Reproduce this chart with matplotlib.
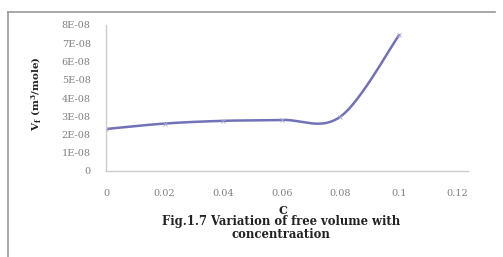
import numpy as np
import matplotlib
matplotlib.use("Agg")
import matplotlib.pyplot as plt
from matplotlib.lines import Line2D

conc = [0.0, 0.02, 0.04, 0.06, 0.08, 0.10]
vf = [2.3e-08, 2.6e-08, 2.75e-08, 2.8e-08, 2.98e-08, 7.45e-08]
xticks = [0, 0.02, 0.04, 0.06, 0.08, 0.1, 0.12]
xticklabels = ["0", "0.02", "0.04", "0.06", "0.08", "0.1", "0.12"]
yticks = [i * 1e-08 for i in range(9)]
yticklabels = ["0"] + ["%dE-08" % i for i in range(1, 9)]

plt.rcParams['font.family'] = ['DejaVu Serif']
plt.rcParams['mathtext.fontset'] = 'custom'
plt.rcParams['mathtext.rm'] = 'DejaVu Serif:bold'
plt.rcParams['mathtext.bf'] = 'DejaVu Serif:bold'
plt.rcParams['mathtext.it'] = 'DejaVu Serif:bold'


def excel_smooth(x, y, n=40):
    x = np.asarray(x, float)
    y = np.asarray(y, float)
    sx = x / 0.12
    sy = y / 8e-08 * 0.4
    P = np.column_stack([sx, sy])
    out = []
    m = len(P)
    for i in range(m - 1):
        p0 = P[i]
        p3 = P[i + 1]
        pm = P[i - 1] if i > 0 else P[i]
        pp = P[i + 2] if i + 2 < m else P[i + 1]
        c1 = p0 + (p3 - pm) / 6.0
        c2 = p3 - (pp - p0) / 6.0
        t = np.linspace(0, 1, n)[:, None]
        seg = ((1 - t) ** 3) * p0 + 3 * ((1 - t) ** 2) * t * c1 + 3 * (1 - t) * t ** 2 * c2 + t ** 3 * p3
        out.append(seg if i == 0 else seg[1:])
    out = np.vstack(out)
    return out[:, 0] * 0.12, out[:, 1] / 0.4 * 8e-08


fig = plt.figure(figsize=(5.03, 2.57), dpi=100)
ax = fig.add_axes([106 / 503, 1 - 171 / 257, 362 / 503, 146 / 257])

sx, sy = excel_smooth(conc, vf)
ax.plot(sx, sy, color='#7272B8', lw=1.8, solid_capstyle='round')
ax.plot(conc, vf, linestyle='none', marker='x', ms=3, mew=0.6, color='#A8A8D4')

ax.set_xlim(0, 0.1235)
ax.set_ylim(0, 8e-08)
ax.set_xticks(xticks)
ax.set_xticklabels(xticklabels)
ax.set_yticks(yticks)
ax.set_yticklabels(yticklabels)
ax.tick_params(axis='both', length=0, labelsize=7, colors='#808080')
ax.tick_params(axis='x', pad=13)
ax.tick_params(axis='y', pad=11)
for s in ['top', 'right']:
    ax.spines[s].set_visible(False)
for s in ['left', 'bottom']:
    ax.spines[s].set_color('#CCCCCC')
    ax.spines[s].set_linewidth(1.0)

fig.text(36 / 503, 1 - 94 / 257, r'V$_{f}$ (m$^{3}$/mole)', rotation=90,
         ha='center', va='center', fontsize=7.5, fontweight='bold', color='#222222')
fig.text(283 / 503, 1 - 210 / 257, 'C', ha='center', va='center',
         fontsize=8, fontweight='bold', color='#222222')
fig.text(281 / 503, 1 - 222 / 257, 'Fig.1.7 Variation of free volume with',
         ha='center', va='center', fontsize=8.4, fontweight='bold', color='#222222')
fig.text(281 / 503, 1 - 235 / 257, 'concentraation',
         ha='center', va='center', fontsize=8.4, fontweight='bold', color='#222222')

fig.add_artist(Line2D([8 / 503, 495 / 503], [1 - 12 / 257, 1 - 12 / 257],
                      color='#999999', lw=1.2, transform=fig.transFigure))
fig.add_artist(Line2D([8 / 503, 8 / 503], [1 - 12 / 257, 0],
                      color='#999999', lw=1.2, transform=fig.transFigure))

fig.savefig('out.png', dpi=100)
